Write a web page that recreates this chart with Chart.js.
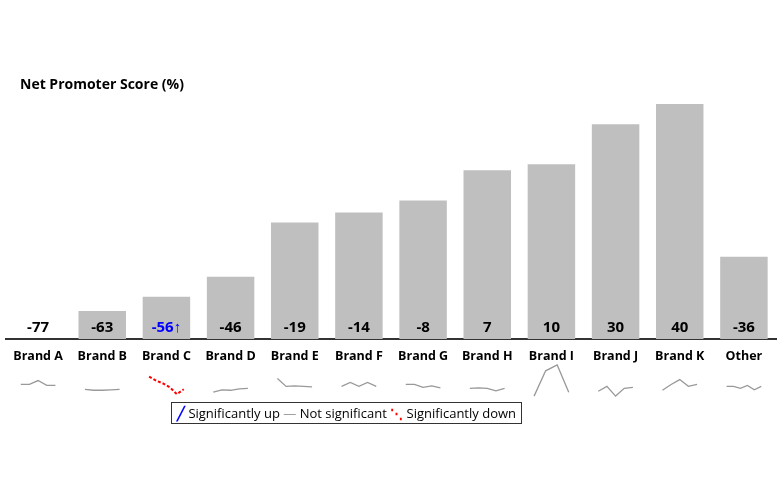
<!DOCTYPE html>
<html>
<head>
<meta charset="utf-8">
<script src="https://cdn.jsdelivr.net/npm/chart.js@4.4.0/dist/chart.umd.min.js"></script>
<style>
  body { margin: 0; background: #fff; font-family: "Open Sans", "Liberation Sans", sans-serif; }
  #wrap { position: relative; width: 780px; height: 480px; }
  #main { position: absolute; left: 0; top: 0; }
  #spark { position: absolute; left: 0; top: 362px; }
  #legend { position: absolute; left: 171px; top: 402px; border: 1px solid #333; padding: 1px 5px;
            font-size: 13px; color: #000; white-space: nowrap; }
</style>
</head>
<body>
<div id="wrap">
  <canvas id="main" width="780" height="480"></canvas>
  <canvas id="spark" width="780" height="40"></canvas>
  <div id="legend"><span style="color:#0000ff;font-weight:bold">╱</span> Significantly up
    <span style="color:#999">—</span> Not significant
    <span style="color:#ff0000;font-weight:bold">⋱</span> Significantly down</div>
</div>
<script>
// DATOS DEL GRAFICO
const marcas = ["Brand A", "Brand B", "Brand C", "Brand D", "Brand E", "Brand F",
  "Brand G", "Brand H", "Brand I", "Brand J", "Brand K", "Other"];
const nps = [-77, -63, -56, -46, -19, -14, -8, 7, 10, 30, 40, -36];
const etiquetas = ["-77", "-63", "-56", "-46", "-19", "-14", "-8", "7", "10", "30", "40", "-36"];
const significativo = ["", "", "up", "", "", "", "", "", "", "", "", ""];
const BASE = -77;
// TENDENCIAS (SPARKLINES)
const tendencias = [
  [16, 16, 20, 15, 15],
  [11, 10, 10, 10.5, 11],
  [24, 20, 17, 13, 6, 11],
  [8, 10.5, 10, 11.5, 12],
  [22, 14, 14.5, 14, 13.5],
  [14, 18, 14, 18, 14],
  [16, 16, 13, 14.5, 12.5],
  [12, 12.5, 12, 9.5, 12],
  [4, 30, 36, 8],
  [9, 14, 4, 12, 13],
  [10, 16, 21, 14, 16],
  [14, 14, 12, 15, 10.5, 14]
];
const estadoTendencia = ["", "", "down", "", "", "", "", "", "", "", "", ""];

const PAD_L = 6, PAD_R = 4;
const FUENTE = "'Open Sans', 'Liberation Sans', sans-serif";

// TITULO Y ETIQUETAS SOBRE LAS BARRAS
const etiquetasBarras = {
  id: "etiquetasBarras",
  afterDatasetsDraw(chart) {
    const ctx = chart.ctx;
    const meta = chart.getDatasetMeta(0);
    ctx.save();
    ctx.font = "bold 14px " + FUENTE;
    ctx.fillStyle = "#000";
    ctx.textAlign = "left";
    ctx.textBaseline = "middle";
    ctx.fillText("Net Promoter Score (%)", 20, 85);
    ctx.font = "bold 15px " + FUENTE;
    ctx.textAlign = "center";
    ctx.textBaseline = "bottom";
    meta.data.forEach((bar, i) => {
      let txt = etiquetas[i];
      ctx.fillStyle = significativo[i] === "up" ? "#0000ff" : "#000";
      if (significativo[i] === "up") txt += "↑";
      ctx.fillText(txt, bar.x, bar.y - 4);
    });
    ctx.restore();
  }
};

new Chart(document.getElementById("main"), {
  type: "bar",
  data: {
    labels: marcas,
    datasets: [{ data: nps.map(v => [BASE, v]), backgroundColor: "#bfbfbf", barPercentage: 0.74, categoryPercentage: 1 }]
  },
  options: {
    responsive: false,
    animation: false,
    layout: { padding: { left: PAD_L, right: PAD_R, top: 84, bottom: 114 } },
    plugins: { legend: { display: false }, tooltip: { enabled: false } },
    scales: {
      x: {
        grid: { display: false },
        border: { color: "#333", width: 2 },
        ticks: { color: "#000", font: { size: 12.5, weight: "bold", family: FUENTE }, padding: 2, maxRotation: 0 }
      },
      y: { display: false, min: BASE, max: 50 }
    }
  },
  plugins: [etiquetasBarras]
});

// SPARKLINES EN UN SEGUNDO GRAFICO
const datasetsTendencia = tendencias.map((serie, i) => {
  const n = serie.length;
  return {
    data: serie.map((v, j) => ({ x: i - 0.27 + 0.54 * j / (n - 1), y: v })),
    borderColor: estadoTendencia[i] === "down" ? "#ff0000" : (estadoTendencia[i] === "up" ? "#0000ff" : "#999"),
    borderDash: estadoTendencia[i] ? [3, 2] : [],
    borderWidth: estadoTendencia[i] ? 2 : 1.3,
    pointRadius: 0,
    showLine: true
  };
});

new Chart(document.getElementById("spark"), {
  type: "scatter",
  data: { datasets: datasetsTendencia },
  options: {
    responsive: false,
    animation: false,
    layout: { padding: { left: PAD_L, right: PAD_R, top: 2, bottom: 2 } },
    plugins: { legend: { display: false }, tooltip: { enabled: false } },
    scales: {
      x: { display: false, min: -0.5, max: 11.5 },
      y: { display: false, min: 0, max: 37 }
    }
  }
});
</script>
</body>
</html>
